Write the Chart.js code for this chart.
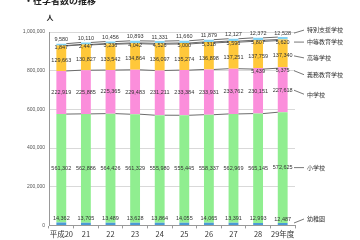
<!DOCTYPE html>
<html>
<head>
<meta charset="utf-8">
<script src="https://cdn.jsdelivr.net/npm/chart.js@4/dist/chart.umd.min.js"></script>
<style>
html,body{margin:0;padding:0;background:#fff;}
#wrap{width:360px;height:240px;}
</style>
</head>
<body>
<div id="wrap"><canvas id="c" width="360" height="240"></canvas></div>
<script>
var years = ['平成20','21','22','23','24','25','26','27','28','29年度'];
var kindergarten = [14362,13705,13489,13628,13864,14055,14065,13391,12993,12487];
var elementary = [561302,562886,564426,561329,555980,555445,558337,562969,565145,572625];
var juniorHigh = [222919,225885,225365,229483,231211,233384,233931,233762,230151,227618];
var compulsory = [null,null,null,null,null,null,null,null,5439,5375];
var highSchool = [129663,130827,133542,134864,136097,135274,136898,137251,137759,137340];
var secondary = [1847,2447,3236,4042,4526,5000,5318,5596,5807,5620];
var specialNeeds = [9580,10110,10456,10893,11331,11660,11879,12127,12372,12528];
var seriesNames = ['幼稚園','小学校','中学校','義務教育学校','高等学校','中等教育学校','特別支援学校'];
var seriesData = [kindergarten, elementary, juniorHigh, compulsory, highSchool, secondary, specialNeeds];
var seriesColors = ['#4a9ad6','#90ee90','#fb8edb','#f98cd8','#ffc83a','#ffc22e','#82d2f2'];
// label placement: 'above' or 'center', plus small y nudge
var labelPos = ['above','center','center','center','center','center','above'];
var labelNudge = [0,0,0,3,2,2,0];
var leaderDy = [0,0,4,4,2,0,-3];

var JP = '"Noto Sans CJK JP", "Noto Sans", sans-serif';

function fmt(v){ return v.toLocaleString('en-US'); }

function stackTop(upto, i){
	var s = 0;
	for (var d = 0; d <= upto; d++){
		var v = seriesData[d][i];
		if (v != null) s += v;
	};
	return s;
};

var datasets = [];
for (var d = 0; d < seriesData.length; d++){
	datasets.push({
		label: seriesNames[d],
		data: seriesData[d],
		backgroundColor: seriesColors[d],
		borderWidth: 0,
		categoryPercentage: 1,
		barPercentage: 0.4
	});
};

// grey connector lines between bars (like Excel series lines)
var seriesLines = {
	id: 'seriesLines',
	afterDatasetsDraw: function(chart){
		var ctx = chart.ctx, xs = chart.scales.x, ys = chart.scales.y;
		var half = chart.getDatasetMeta(0).data[0].width / 2;
		ctx.save();
		ctx.strokeStyle = '#6b6b6b';
		ctx.lineWidth = 1;
		for (var d = 1; d < seriesData.length; d++){
			if (d == 3) continue;
			for (var i = 0; i < years.length - 1; i++){
				var y1 = ys.getPixelForValue(stackTop(d, i));
				var y2 = ys.getPixelForValue(stackTop(d, i + 1));
				ctx.beginPath();
				ctx.moveTo(xs.getPixelForValue(i) + half, y1);
				ctx.lineTo(xs.getPixelForValue(i + 1) - half, y2);
				ctx.stroke();
			};
		};
		ctx.restore();
	}
};

function labelY(ys, d, i){
	var top = ys.getPixelForValue(stackTop(d, i));
	var bottom = ys.getPixelForValue(d > 0 ? stackTop(d - 1, i) : 0);
	if (labelPos[d] == 'above') return top - 4 + labelNudge[d];
	return (top + bottom) / 2 + labelNudge[d];
};

var valueLabels = {
	id: 'valueLabels',
	afterDatasetsDraw: function(chart){
		var ctx = chart.ctx, xs = chart.scales.x, ys = chart.scales.y, area = chart.chartArea;
		ctx.save();
		ctx.font = '5.5px "Liberation Sans", sans-serif';
		ctx.fillStyle = '#333';
		ctx.textAlign = 'center';
		ctx.textBaseline = 'middle';
		for (var d = 0; d < seriesData.length; d++){
			for (var i = 0; i < years.length; i++){
				var v = seriesData[d][i];
				if (v == null) continue;
				ctx.fillText(fmt(v), xs.getPixelForValue(i), labelY(ys, d, i));
			};
		};
		// series names at the right with leader lines
		var last = years.length - 1;
		var prev = -100;
		var items = [];
		for (var d = seriesData.length - 1; d >= 0; d--){
			var ly = labelY(ys, d, last);
			var ty = Math.max(ly + leaderDy[d], prev + 12);
			prev = ty;
			items.push([d, ly, ty]);
		};
		ctx.strokeStyle = '#555';
		ctx.lineWidth = 0.8;
		ctx.font = '6px ' + JP;
		ctx.textAlign = 'left';
		for (var k = 0; k < items.length; k++){
			var it = items[k];
			ctx.beginPath();
			ctx.moveTo(area.right - 1, it[1] + (it[0] == 0 ? 4 : 0));
			ctx.lineTo(area.right + 9, it[2]);
			ctx.stroke();
			ctx.fillText(seriesNames[it[0]], area.right + 12, it[2]);
		};
		// title and unit
		ctx.font = 'bold 9px ' + JP;
		ctx.textBaseline = 'alphabetic';
		ctx.fillStyle = '#222';
		ctx.fillText('・在学者数の推移', 24, 4);
		ctx.font = 'bold 7px ' + JP;
		ctx.textAlign = 'center';
		ctx.textBaseline = 'middle';
		ctx.fillText('人', area.left + 1, 17);
		ctx.restore();
	}
};

var myChart = new Chart(document.getElementById('c'), {
	type: 'bar',
	data: { labels: years, datasets: datasets },
	options: {
		responsive: false,
		animation: false,
		layout: { padding: { top: 32, right: 65, left: 0, bottom: 0 } },
		plugins: { legend: { display: false }, tooltip: { enabled: false } },
		scales: {
			x: {
				stacked: true,
				grid: { display: true, drawOnChartArea: false, offset: true, tickLength: 3, color: '#999' },
				border: { color: '#999' },
				ticks: { font: { size: 7.5, family: JP }, color: '#333', padding: 1, maxRotation: 0, autoSkip: false },
				afterFit: function(s){ s.height = 14.6; }
			},
			y: {
				stacked: true,
				min: 0,
				max: 1000000,
				ticks: { stepSize: 200000, font: { size: 5, family: '"Liberation Sans", sans-serif' }, color: '#555', padding: 4, callback: function(v){ return fmt(v); } },
				grid: { color: '#d9d9d9', drawTicks: false },
				border: { color: '#999' },
				afterFit: function(s){ s.width = 49; }
			}
		}
	},
	plugins: [seriesLines, valueLabels]
});
</script>
</body>
</html>
